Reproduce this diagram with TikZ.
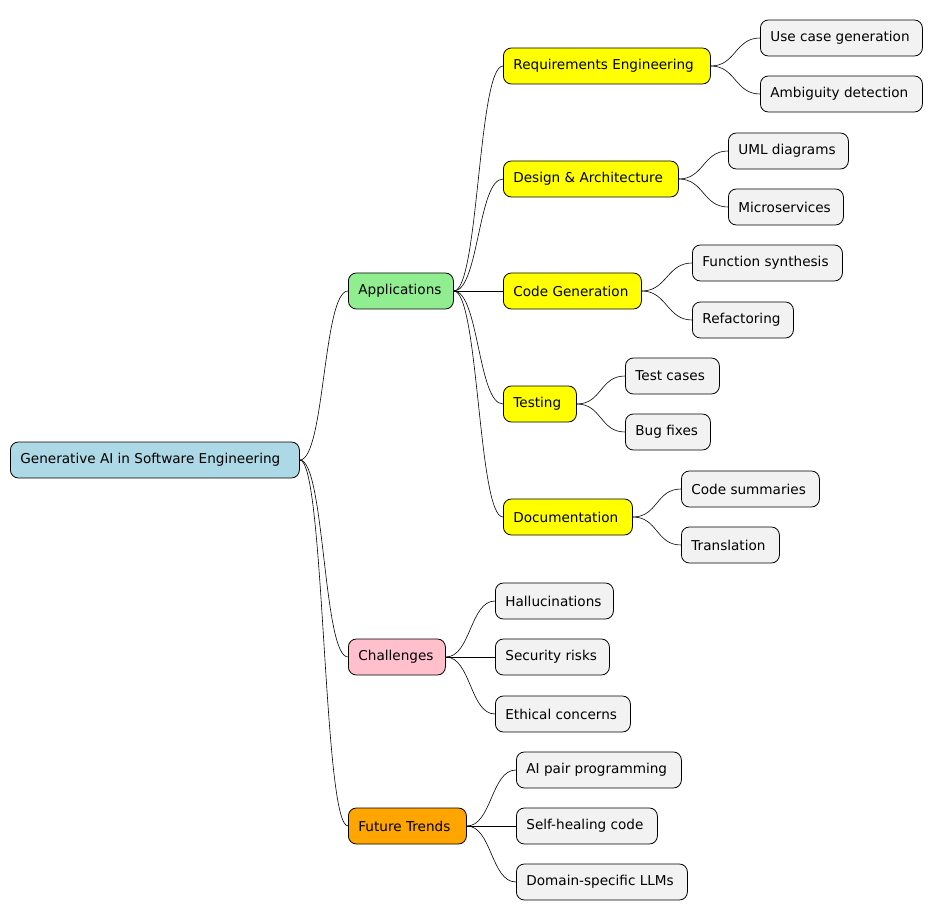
\documentclass[tikz,border=0pt]{standalone}
\usepackage{fontspec}
\setmainfont{DejaVu Sans}
\begin{document}
\begin{tikzpicture}[x=1pt,y=-1pt,
  box/.style={draw=black,rounded corners=8pt,line width=0.8pt,minimum height=36pt,inner xsep=10pt,font=\fontsize{13.6}{16}\selectfont,anchor=west},
  lf/.style={box,fill=black!5},
  yl/.style={box,fill={rgb,255:red,255;green,255;blue,0}},
  con/.style={line width=0.6pt}]
\useasboundingbox (0,0) rectangle (943,920);
\newcommand\nd[6]{\node[#1] (#2) at (#3,#5) {\makebox[\dimexpr #4pt-#3pt-20pt\relax][l]{#6}};}
\nd{box,fill={rgb,255:red,173;green,216;blue,230}}{root}{10}{299}{460}{Generative AI in Software Engineering}
\nd{box,fill={rgb,255:red,144;green,238;blue,144}}{app}{348}{453}{291}{Applications}
\nd{box,fill={rgb,255:red,255;green,192;blue,203}}{chal}{348}{445}{657}{Challenges}
\nd{box,fill={rgb,255:red,255;green,165;blue,0}}{fut}{348}{466}{826}{Future Trends}
\nd{yl}{req}{503}{710}{66}{Requirements Engineering}
\nd{yl}{des}{503}{678}{179}{Design \& Architecture}
\nd{yl}{cod}{503}{641}{291}{Code Generation}
\nd{yl}{tes}{503}{576}{404}{Testing}
\nd{yl}{doc}{503}{632}{517}{Documentation}
\nd{lf}{l1}{760}{922}{38}{Use case generation}
\nd{lf}{l2}{760}{922}{94}{Ambiguity detection}
\nd{lf}{l3}{728}{848}{151}{UML diagrams}
\nd{lf}{l4}{728}{843}{207}{Microservices}
\nd{lf}{l5}{692}{842}{263}{Function synthesis}
\nd{lf}{l6}{692}{793}{320}{Refactoring}
\nd{lf}{l7}{625}{719}{376}{Test cases}
\nd{lf}{l8}{625}{710}{432}{Bug fixes}
\nd{lf}{l9}{681}{819}{489}{Code summaries}
\nd{lf}{l10}{681}{779}{545}{Translation}
\nd{lf}{c1}{495}{613}{601}{Hallucinations}
\nd{lf}{c2}{495}{609}{657}{Security risks}
\nd{lf}{c3}{495}{630}{714}{Ethical concerns}
\nd{lf}{f1}{516}{681}{770}{AI pair programming}
\nd{lf}{f2}{516}{657}{826}{Self-healing code}
\nd{lf}{f3}{516}{687}{882}{Domain-specific LLMs}
\foreach \a/\b in {root/app,root/chal,root/fut,app/req,app/des,app/cod,app/tes,app/doc,
  req/l1,req/l2,des/l3,des/l4,cod/l5,cod/l6,tes/l7,tes/l8,doc/l9,doc/l10,
  chal/c1,chal/c2,chal/c3,fut/f1,fut/f2,fut/f3}
  \draw[con] (\a.east) .. controls +(25,0) and +(-25,0) .. (\b.west);
\end{tikzpicture}
\end{document}
